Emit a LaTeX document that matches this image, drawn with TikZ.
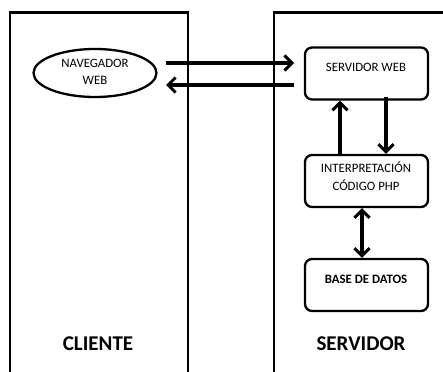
\documentclass[tikz,border=0pt]{standalone}
\usepackage{fontspec}
\setmainfont{Carlito}
\usetikzlibrary{arrows.meta,shapes.geometric}
\begin{document}
\begin{tikzpicture}[x=1pt,y=-1pt,
  col/.style={line width=2.8pt},
  rbox/.style={draw,line width=2.3pt,rounded corners=7pt,minimum width=123pt,minimum height=52pt,inner sep=0pt},
  small/.style={font=\fontsize{12.8}{17.5}\selectfont,align=center},
  big/.style={font=\fontsize{21}{24}\selectfont\bfseries},
  tip/.style={Straight Barb[length=7.5pt,width=15pt,line width=3pt]},
  arr/.style={line width=3.5pt,-{Straight Barb[length=7.5pt,width=15pt,line width=3pt]}},
  darr/.style={line width=3.5pt,{Straight Barb[length=7.5pt,width=15pt,line width=3pt]}-{Straight Barb[length=7.5pt,width=15pt,line width=3pt]}}]
\useasboundingbox (0,0) rectangle (443,371);
\draw[col] (10,375) -- (10,12.5) -- (188,12.5) -- (188,375);
\draw[col] (274,375) -- (274,12.5) -- (450,12.5);
\node[draw,ellipse,line width=2.3pt,minimum width=123pt,minimum height=48pt,inner sep=0pt] (nav) at (95,73) {};
\node[small] at (95,72) {NAVEGADOR\\WEB};
\node[rbox] (sw) at (366.5,73.5) {};
\node[small] at (366,67) {SERVIDOR WEB};
\node[rbox] (php) at (366.5,181) {};
\node[small] at (366,176) {INTERPRETACIÓN\\CÓDIGO PHP};
\node[rbox] (db) at (366.5,285) {};
\node[small,font=\fontsize{12.8}{17.5}\selectfont\bfseries] at (366,279) {BASE DE DATOS};
\node[big] (cli) at (98,344) {CLIENTE};
\node[big] (srv) at (361,344) {SERVIDOR};
\coordinate (a1) at (166,63);
\coordinate (a2) at (294,63);
\coordinate (b1) at (294,85);
\coordinate (b2) at (166,85);
\draw[arr] (a1) -- (a2);
\draw[arr] (b1) -- (b2);
\draw[arr] (php.north -| 340,0) -- (sw.south -| 340,0);
\draw[arr] ([yshift=4pt]sw.south -| 386,0) -- (php.north -| 386,0);
\draw[darr] (php.south -| 362,0) -- (db.north -| 362,0);
\end{tikzpicture}
\end{document}
